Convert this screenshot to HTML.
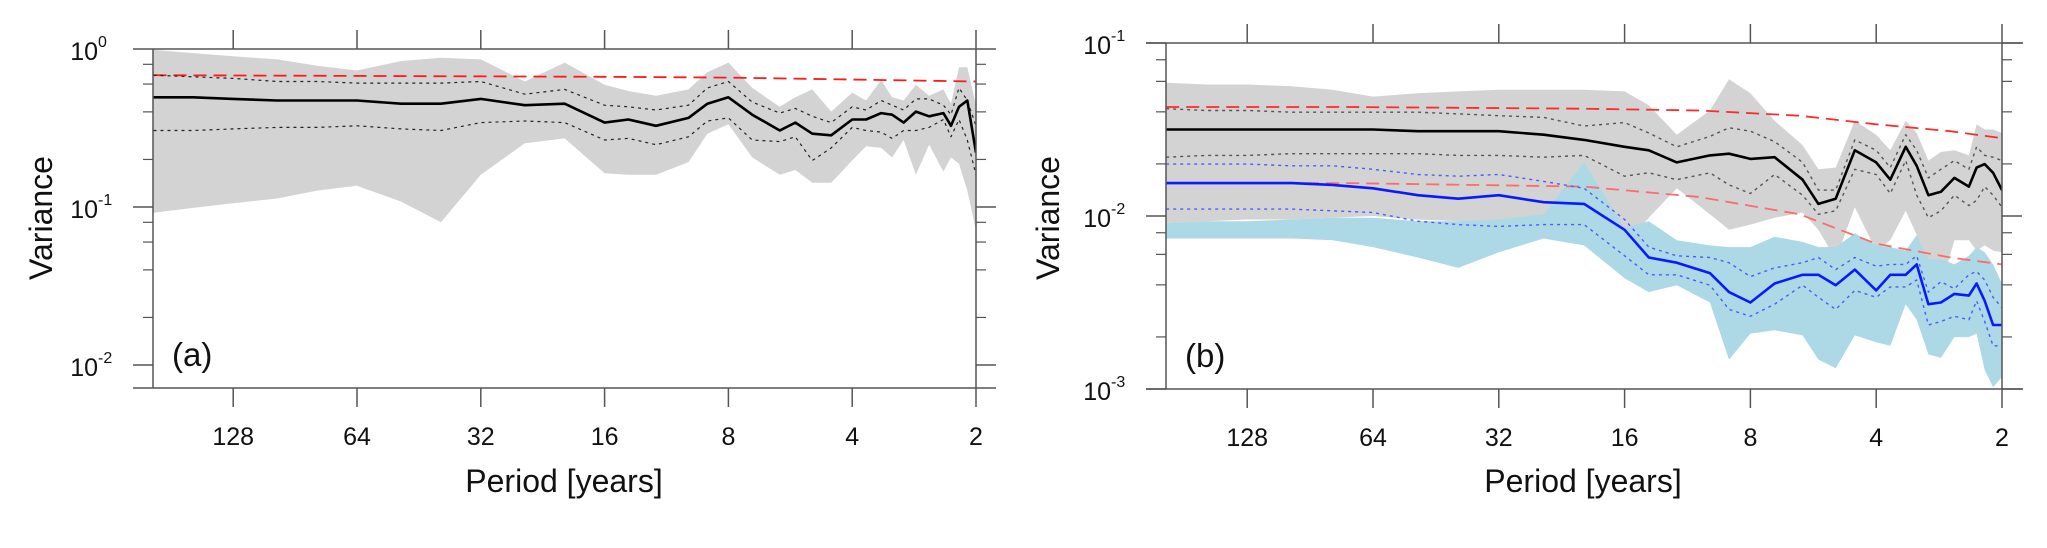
<!DOCTYPE html>
<html><head><meta charset="utf-8"><style>
html,body{margin:0;padding:0;background:#fff;}
svg{display:block;font-family:"Liberation Sans",Arial,sans-serif;}
</style></head><body>
<svg id="fig" width="2047" height="548" viewBox="0 0 2047 548" xmlns="http://www.w3.org/2000/svg"></svg>
<script>
// Shared period grid (years)
const periods = [200,160,128,100,80,64,50,40,32,25,20,16,14,12,10,9,8,7,6,5.5,5,4.5,4,3.7,3.4,3.2,3,2.8,2.6,2.4,2.3,2.2,2.1,2];
const xTickLabels = [128,64,32,16,8,4,2];

// Panel (a) values as log10(variance)
const aMean = [-0.16,-0.16,-0.17,-0.18,-0.18,-0.18,-0.20,-0.20,-0.17,-0.21,-0.20,-0.32,-0.30,-0.34,-0.29,-0.20,-0.16,-0.27,-0.37,-0.32,-0.39,-0.40,-0.30,-0.30,-0.26,-0.27,-0.32,-0.25,-0.28,-0.26,-0.34,-0.22,-0.18,-0.51];
const aUpper = [-0.02,-0.03,-0.04,-0.06,-0.06,-0.07,-0.07,-0.07,-0.06,-0.14,-0.11,-0.21,-0.22,-0.24,-0.21,-0.10,-0.06,-0.19,-0.26,-0.23,-0.28,-0.32,-0.22,-0.24,-0.18,-0.21,-0.24,-0.17,-0.17,-0.21,-0.27,-0.10,-0.18,-0.34];
const aLower = [-0.37,-0.37,-0.36,-0.35,-0.35,-0.34,-0.36,-0.37,-0.32,-0.31,-0.32,-0.43,-0.42,-0.46,-0.41,-0.31,-0.29,-0.43,-0.44,-0.41,-0.56,-0.48,-0.35,-0.37,-0.38,-0.42,-0.37,-0.37,-0.35,-0.30,-0.41,-0.30,-0.43,-0.65];
const aShadeHi = [0.14,0.12,0.10,0.08,0.04,0.01,0.07,0.09,0.08,-0.06,0.06,-0.08,-0.12,-0.15,-0.11,0.00,0.06,-0.10,-0.22,-0.16,-0.11,-0.25,-0.13,-0.18,-0.05,-0.16,-0.18,-0.08,-0.15,-0.11,-0.20,0.03,0.03,-0.21];
const aShadeLo = [-0.89,-0.86,-0.83,-0.80,-0.75,-0.72,-0.82,-0.95,-0.65,-0.45,-0.42,-0.64,-0.65,-0.65,-0.57,-0.39,-0.33,-0.54,-0.65,-0.62,-0.70,-0.70,-0.56,-0.47,-0.48,-0.54,-0.43,-0.65,-0.46,-0.63,-0.54,-0.58,-0.75,-1.00];
const aRedPeriods = [200,16,8,2];
const aRed = [-0.02,-0.03,-0.035,-0.06];

// Panel (b) values as log10(variance)
const bMean = [-1.50,-1.50,-1.50,-1.50,-1.50,-1.50,-1.51,-1.51,-1.51,-1.53,-1.56,-1.60,-1.62,-1.69,-1.65,-1.64,-1.67,-1.66,-1.79,-1.93,-1.90,-1.62,-1.69,-1.79,-1.60,-1.71,-1.88,-1.86,-1.78,-1.83,-1.72,-1.70,-1.75,-1.85];
const bUpper = [-1.38,-1.39,-1.39,-1.40,-1.40,-1.40,-1.40,-1.41,-1.42,-1.43,-1.48,-1.46,-1.52,-1.60,-1.54,-1.49,-1.51,-1.57,-1.69,-1.85,-1.85,-1.56,-1.62,-1.72,-1.53,-1.62,-1.78,-1.73,-1.68,-1.73,-1.60,-1.65,-1.66,-1.68];
const bLower = [-1.66,-1.65,-1.65,-1.64,-1.64,-1.64,-1.64,-1.65,-1.65,-1.66,-1.65,-1.77,-1.75,-1.79,-1.75,-1.82,-1.87,-1.76,-1.88,-1.99,-1.97,-1.73,-1.76,-1.87,-1.68,-1.88,-2.01,-1.97,-1.88,-1.94,-1.91,-1.83,-1.88,-1.95];
const bShadeHi = [-1.23,-1.24,-1.24,-1.25,-1.27,-1.31,-1.29,-1.28,-1.27,-1.27,-1.27,-1.28,-1.36,-1.53,-1.39,-1.21,-1.29,-1.45,-1.59,-1.73,-1.72,-1.45,-1.53,-1.62,-1.45,-1.52,-1.68,-1.63,-1.62,-1.65,-1.47,-1.50,-1.50,-1.52];
const bShadeLo = [-2.04,-2.03,-2.02,-2.02,-2.01,-2.00,-2.02,-2.03,-2.03,-2.02,-2.05,-2.17,-2.01,-1.84,-1.99,-2.08,-2.05,-2.01,-1.98,-2.08,-2.25,-1.95,-2.20,-2.14,-1.97,-2.11,-2.28,-2.41,-2.14,-2.14,-2.20,-2.17,-2.20,-2.21];
const bRedPeriods = [200,73,20,10.6,6.1,4,2.66,2];
const bRedHi = [-1.37,-1.37,-1.38,-1.39,-1.42,-1.47,-1.51,-1.55];
const bRedLo = [-1.81,-1.81,-1.83,-1.89,-1.99,-2.16,-2.24,-2.28];
const blueMean = [-1.81,-1.81,-1.81,-1.81,-1.82,-1.84,-1.88,-1.90,-1.88,-1.92,-1.93,-2.08,-2.24,-2.27,-2.33,-2.44,-2.50,-2.39,-2.34,-2.34,-2.40,-2.31,-2.43,-2.34,-2.34,-2.28,-2.51,-2.50,-2.45,-2.46,-2.39,-2.49,-2.63,-2.63];
const blueUpper = [-1.70,-1.70,-1.70,-1.71,-1.71,-1.73,-1.76,-1.77,-1.76,-1.80,-1.84,-2.02,-2.18,-2.23,-2.24,-2.27,-2.35,-2.30,-2.27,-2.24,-2.31,-2.24,-2.29,-2.28,-2.28,-2.23,-2.44,-2.38,-2.42,-2.34,-2.32,-2.37,-2.47,-2.53];
const blueLower = [-1.96,-1.96,-1.96,-1.96,-1.97,-1.98,-2.03,-2.05,-2.06,-2.05,-2.05,-2.23,-2.34,-2.34,-2.40,-2.54,-2.58,-2.51,-2.40,-2.47,-2.54,-2.43,-2.47,-2.41,-2.41,-2.37,-2.63,-2.61,-2.58,-2.60,-2.49,-2.61,-2.75,-2.75];
const blueShadeHi = [-2.04,-2.03,-2.03,-2.02,-2.01,-2.01,-2.03,-2.03,-2.02,-1.99,-1.69,-2.07,-2.03,-2.14,-2.17,-2.18,-2.18,-2.12,-2.15,-2.18,-2.18,-2.10,-2.17,-2.18,-2.20,-2.11,-2.25,-2.25,-2.28,-2.23,-2.18,-2.21,-2.28,-2.39];
const blueShadeLo = [-2.13,-2.13,-2.13,-2.13,-2.14,-2.18,-2.24,-2.30,-2.21,-2.13,-2.17,-2.36,-2.44,-2.40,-2.50,-2.83,-2.68,-2.66,-2.69,-2.83,-2.88,-2.69,-2.73,-2.75,-2.51,-2.60,-2.80,-2.82,-2.70,-2.70,-2.68,-2.89,-2.99,-2.93];

const NS = "http://www.w3.org/2000/svg";
const svg = document.getElementById('fig');
function mk(tag, attrs, parent){
  const e = document.createElementNS(NS, tag);
  for (const k in attrs) e.setAttribute(k, attrs[k]);
  (parent||svg).appendChild(e);
  return e;
}

function makePanel(cfg){
  const g = mk('g', {});
  
  
  const xOf = p => cfg.x2 - (Math.log2(p) - 1) * cfg.oct;
  const yOf = lv => cfg.yTop + (cfg.lvTop - lv) * cfg.dec;
  const pts = (ps, vs) => ps.map((p,i)=>xOf(p).toFixed(1)+','+yOf(vs[i]).toFixed(1)).join(' ');
  const clipId = 'clip-' + cfg.name;
  const cp = mk('clipPath', {id: clipId}, g);
  mk('rect', {x: cfg.x1, y: cfg.yTop, width: cfg.x2-cfg.x1, height: cfg.yBot-cfg.yTop}, cp);
  const plot = mk('g', {'clip-path': 'url(#'+clipId+')'}, g);
  
  

  function band(hi, lo, fill, nm){
    const d = pts(periods, hi) + ' ' + pts(periods.slice().reverse(), lo.slice().reverse());
    const e = mk('polygon', {points: d, fill: fill, stroke: 'none'}, plot);
    
    
  }
  function line(ps, vs, color, w, dash, nm){
    const e = mk('polyline', {points: pts(ps, vs), fill: 'none', stroke: color, 'stroke-width': w, 'stroke-linejoin': 'round'}, plot);
    if (dash) e.setAttribute('stroke-dasharray', dash);
    
    
  }
  cfg.draw(band, line);

  const ax = '#555';
  const A = (x1,y1,x2,y2,w)=>mk('line',{x1,y1,x2,y2,stroke:ax,'stroke-width':w||1.5},g);
  A(cfg.x1, cfg.yTop, cfg.x1, cfg.yBot);
  A(cfg.x2, cfg.yTop, cfg.x2, cfg.yBot);
  A(cfg.topL, cfg.yTop, cfg.topR, cfg.yTop);
  A(cfg.botL, cfg.yBot, cfg.botR, cfg.yBot);
  xTickLabels.forEach(p=>{
    const x = xOf(p);
    A(x, cfg.yTop-19, x, cfg.yTop);
    A(x, cfg.yBot, x, cfg.yBot+19);
    const t = mk('text', {x: x, y: cfg.yBot+57, 'font-size': 25, 'text-anchor': 'middle', fill: '#111'}, g);
    t.textContent = p;
    
    
  });
  for (let d = 0; d < cfg.decades.length; d++){
    const lv = cfg.lvTop - d;
    const y = yOf(lv);
    A(cfg.x1-20, y, cfg.x1, y);
    A(cfg.x2, y, cfg.x2+20, y);
    const t = mk('text', {x: cfg.x1-55, y: y+11, 'font-size': 25, 'text-anchor': 'end', fill: '#111'}, g);
    t.textContent = '10';
    
    
    const s = mk('text', {x: cfg.x1-55, y: y-2, 'font-size': 16, 'text-anchor': 'start', fill: '#111'}, g);
    s.textContent = cfg.decades[d];
    if (d < cfg.decades.length-1){
      [0.8,0.6,0.4,0.2].forEach(m=>{
        const ym = yOf(lv + Math.log10(m));
        A(cfg.x1-10, ym, cfg.x1, ym, 1.2);
        A(cfg.x2, ym, cfg.x2+10, ym, 1.2);
      });
    }
  }
  const xt = mk('text', {x: cfg.xTitleX, y: 492, 'font-size': 32, 'text-anchor': 'middle', fill: '#111'}, g);
  xt.textContent = 'Period [years]';
  
  
  const yt = mk('text', {x: 0, y: 0, 'font-size': 32, 'text-anchor': 'middle', fill: '#111', transform: 'translate('+cfg.yTitleX+',218) rotate(-90)'}, g);
  yt.textContent = 'Variance';
  
  
  const pl = mk('text', {x: cfg.x1+19, y: cfg.yBot-22, 'font-size': 33, fill: '#111'}, g);
  pl.textContent = cfg.label;
  
  
}

makePanel({
  name: 'panel-a', label: '(a)',
  x1: 153, x2: 976, oct: 123.8, yTop: 49, yBot: 388, lvTop: 0.146, dec: 158,
  topL: 153, topR: 976, botL: 133, botR: 996,
  decades: ['0','-1','-2'], xTitleX: 564, yTitleX: 52,
  draw: (band, line)=>{
    band(aShadeHi, aShadeLo, '#d3d3d3', 'confidence-band-grey');
    line(aRedPeriods, aRed, '#ff1a1a', 1.8, '13,7', 'red-dashed-threshold');
    line(periods, aUpper, '#222', 1.2, '3,4', 'upper-dotted-line');
    line(periods, aLower, '#222', 1.2, '3,4', 'lower-dotted-line');
    line(periods, aMean, '#000', 2.6, null, 'mean-spectrum-line');
  }
});
makePanel({
  name: 'panel-b', label: '(b)',
  x1: 1166, x2: 2002, oct: 125.8, yTop: 43, yBot: 389, lvTop: -1, dec: 173,
  topL: 1146, topR: 2023, botL: 1146, botR: 2023,
  decades: ['-1','-2','-3'], xTitleX: 1583, yTitleX: 1059,
  draw: (band, line)=>{
    band(bShadeHi, bShadeLo, '#d3d3d3', 'confidence-band-grey');
    band(blueShadeHi, blueShadeLo, '#add8e6', 'confidence-band-blue');
    line(bRedPeriods, bRedHi, '#ff2a2a', 1.8, '13,7', 'red-dashed-upper');
    line(bRedPeriods, bRedLo, '#ff6a6a', 1.8, '13,7', 'red-dashed-lower');
    line(periods, bUpper, '#555', 1.4, '3,4', 'black-upper-dotted');
    line(periods, bLower, '#555', 1.4, '3,4', 'black-lower-dotted');
    line(periods, blueUpper, '#4a5cff', 1.4, '3,4', 'blue-upper-dotted');
    line(periods, blueLower, '#4a5cff', 1.4, '3,4', 'blue-lower-dotted');
    line(periods, bMean, '#000', 2.6, null, 'black-mean-line');
    line(periods, blueMean, '#0a1aff', 2.6, null, 'blue-mean-line');
  }
});
</script>
</body></html>
